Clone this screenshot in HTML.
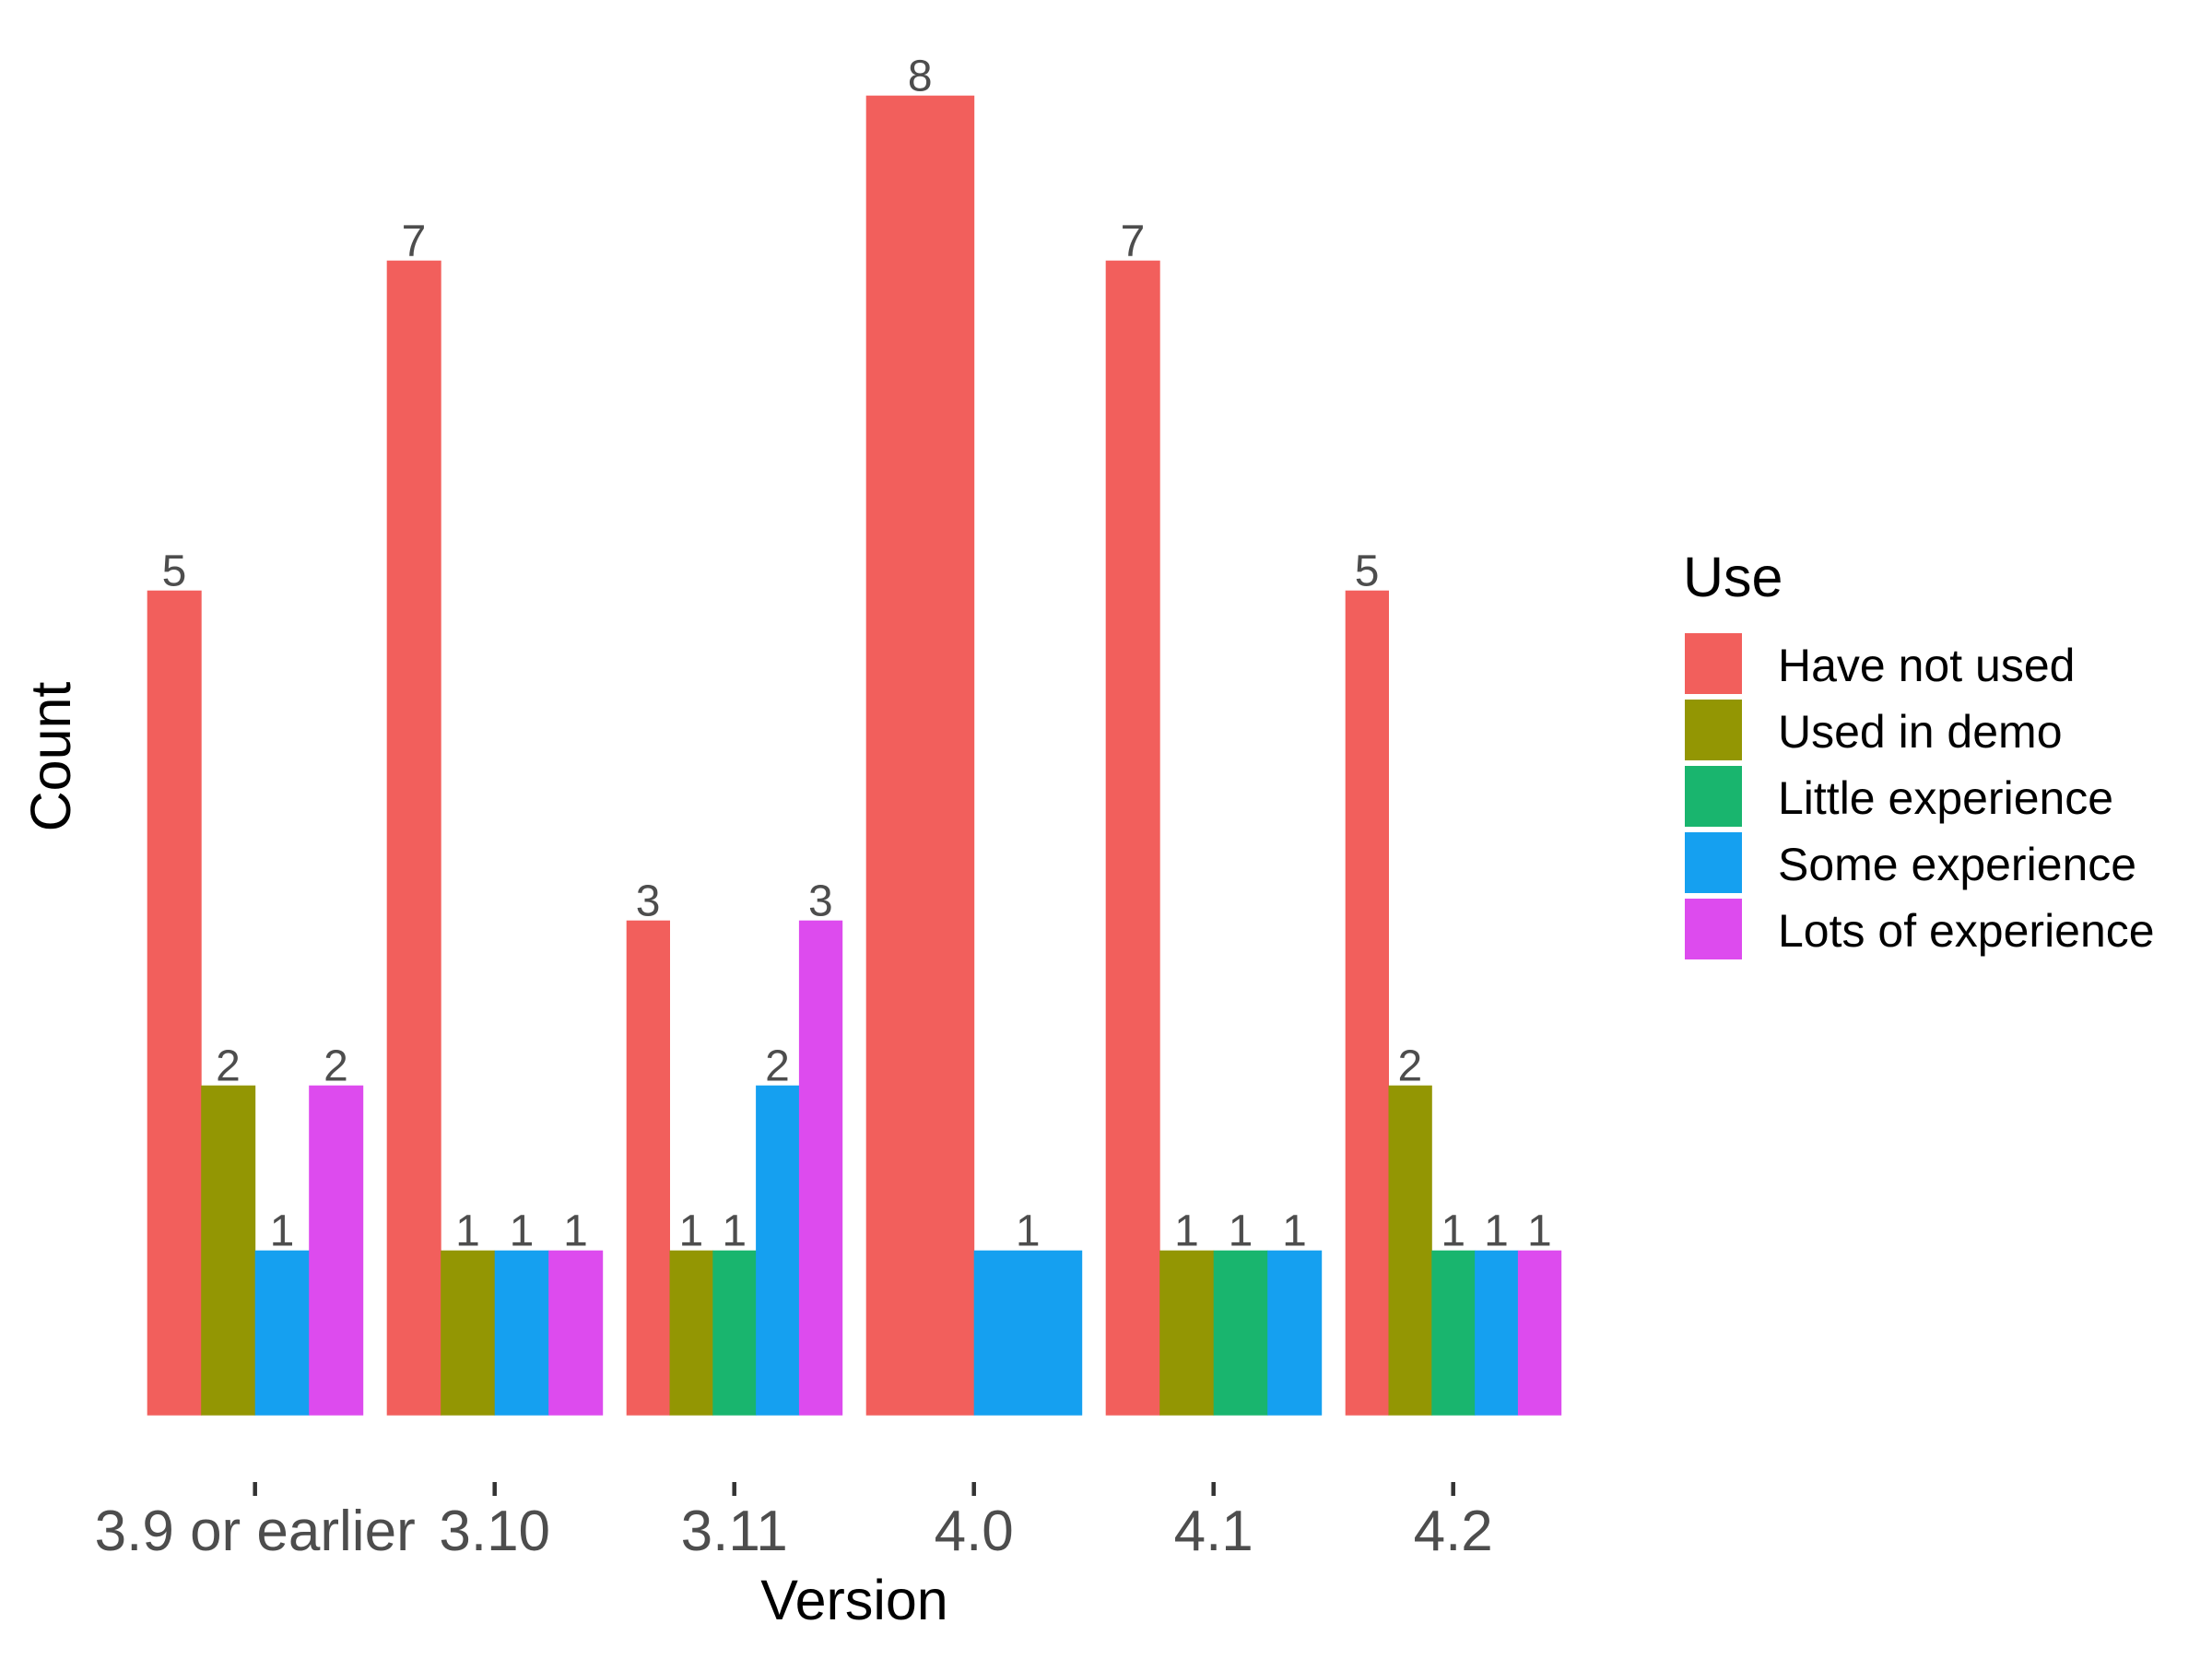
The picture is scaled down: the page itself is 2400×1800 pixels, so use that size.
<!DOCTYPE html>
<html><head><meta charset="utf-8"><style>
html,body{margin:0;padding:0;background:#fff;}
svg{display:block;font-family:"Liberation Sans",Arial,sans-serif;}
</style></head><body>
<svg id="chart" width="2400" height="1800" viewBox="0 0 2400 1800" xmlns="http://www.w3.org/2000/svg">
<g id="bars"></g>
<g id="xaxis"></g>
<text x="927" y="1757" font-size="61" text-anchor="middle" fill="#000">Version</text>
<text transform="translate(76,821) rotate(-90)" font-size="61" text-anchor="middle" fill="#000">Count</text>
<g id="legend">
<text x="1826" y="647" font-size="61" fill="#000">Use</text>
</g>
</svg>
<script>
const categories = ["3.9 or earlier","3.10","3.11","4.0","4.1","4.2"];
const seriesNames = ["Have not used","Used in demo","Little experience","Some experience","Lots of experience"];
const haveNotUsed = [5,7,3,8,7,5];
const usedInDemo = [2,1,1,0,1,2];
const littleExp = [0,0,1,0,1,1];
const someExp = [1,1,2,1,1,1];
const lotsExp = [2,1,3,0,0,1];
const series = [haveNotUsed, usedInDemo, littleExp, someExp, lotsExp];
const colors = ["#F25F5C","#939603","#19B56E","#15A0F0","#DD4BEE"];

const NS = "http://www.w3.org/2000/svg";
const baseY = 1535.7, unit = 179;
const c0 = 276.7, step = 260, groupW = 234;
function xCenter(i){ return c0 + i*step; }
function yPos(v){ return baseY - v*unit; }
function mk(tag, attrs, parent){
  const e = document.createElementNS(NS, tag);
  for (const k in attrs) e.setAttribute(k, attrs[k]);
  parent.appendChild(e); return e;
}
const barsG = document.getElementById('bars');
const axG = document.getElementById('xaxis');
categories.forEach((cat, i) => {
  const present = [];
  series.forEach((s, si) => { if (s[i] > 0) present.push(si); });
  const bw = groupW / present.length;
  const left = xCenter(i) - groupW/2;
  present.forEach((si, k) => {
    const v = series[si][i];
    const x = left + k*bw;
    const r = mk('rect', {x: x, y: yPos(v), width: bw + 0.5, height: baseY - yPos(v), fill: colors[si]}, barsG);
    
    
    const t = mk('text', {x: x + bw/2, y: yPos(v) - 5, 'font-size': 48, 'text-anchor': 'middle', fill: '#4d4d4d'}, barsG);
    t.textContent = v;
    
    
  });
  const tk = mk('line', {x1: xCenter(i), x2: xCenter(i), y1: 1608, y2: 1623, stroke: '#333', 'stroke-width': 4.5}, axG);
  
  
  const tl = mk('text', {x: xCenter(i), y: 1682, 'font-size': 62, 'text-anchor': 'middle', fill: '#4d4d4d'}, axG);
  tl.textContent = cat;
  
  
});
const lg = document.getElementById('legend');
seriesNames.forEach((n, k) => {
  const y = 687 + k*72;
  const r = mk('rect', {x: 1828, y: y, width: 62, height: 66, fill: colors[k]}, lg);
  
  
  const t = mk('text', {x: 1929, y: y + 52, 'font-size': 50, fill: '#000'}, lg);
  t.textContent = n;
  
  
});
</script>
</body></html>
